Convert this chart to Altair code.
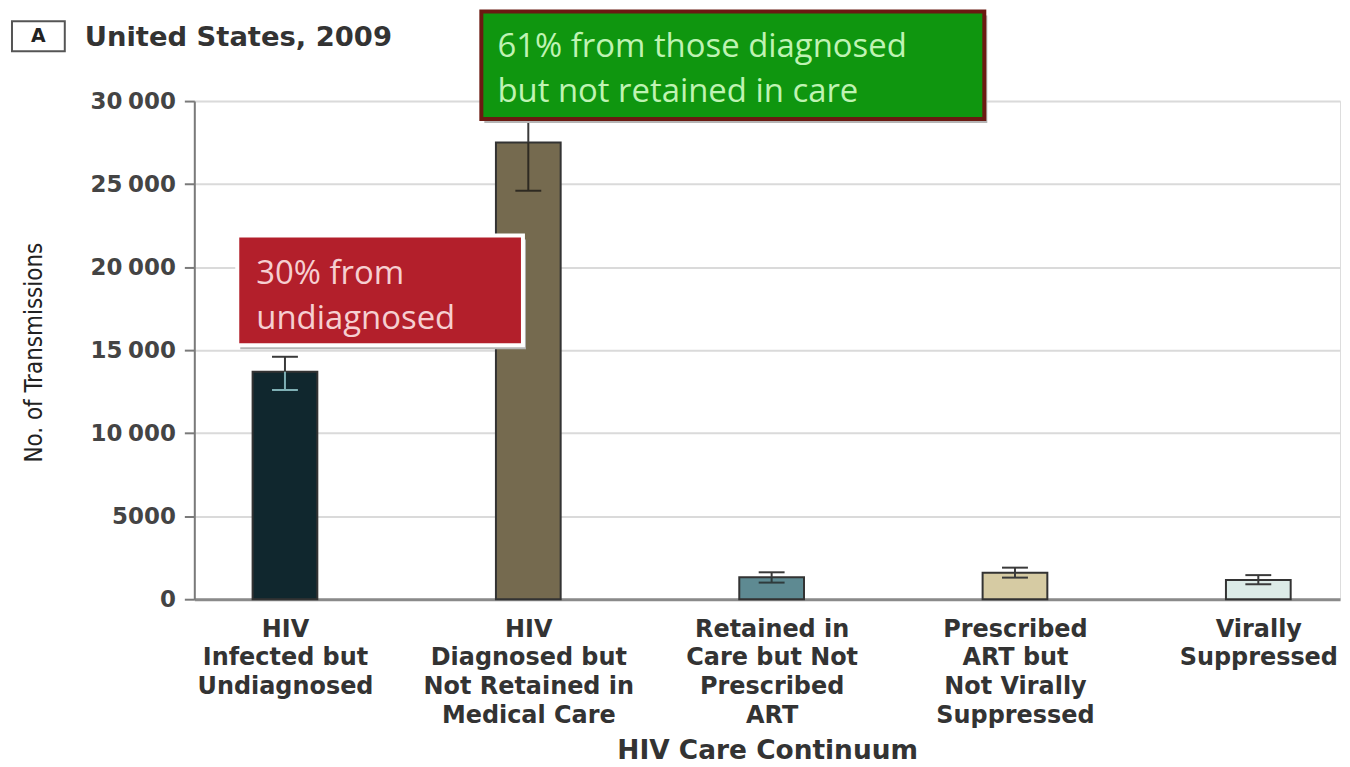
import json
import altair as alt
import pandas as pd

# ---- data ----
category_labels = [
    "HIV|Infected but|Undiagnosed",
    "HIV|Diagnosed but|Not Retained in|Medical Care",
    "Retained in|Care but Not|Prescribed|ART",
    "Prescribed|ART but|Not Virally|Suppressed",
    "Virally|Suppressed",
]
positions = [0, 1, 2, 3, 4]
transmissions = [13700, 27500, 1320, 1600, 1150]
err_low = [12600, 24600, 1000, 1300, 900]
err_high = [14600, 30500, 1620, 1900, 1450]
bar_colors = ["#10272e", "#756a4f", "#5e8a92", "#d6cba3", "#dcebe7"]
inner_err_colors = ["#7fb0b5", "#2e2a22", "#2e3a3c", "#3a3a3a", "#3a3a3a"]
y_ticks = [0, 5000, 10000, 15000, 20000, 25000, 30000]

# annotation boxes (data coordinates)
box_x0 = [-0.196, 0.807]
box_x1 = [0.978, 2.874]
box_y0 = [15300, 28920]
box_y1 = [21900, 35400]
box_fill = ["#b31f2b", "#0f960f"]
box_stroke = ["#ffffff", "#6b1a12"]
box_texts = ["30% from\nundiagnosed", "61% from those diagnosed\nbut not retained in care"]
text_x = [-0.118, 0.873]
text_y = [19000, 32650]
text_colors = ["#f6cfd1", "#bff3b3"]

df = pd.DataFrame({
    "pos": positions,
    "value": transmissions,
    "lo": err_low,
    "hi": err_high,
    "color": bar_colors,
    "inner": inner_err_colors,
})
boxes = pd.DataFrame({
    "x0": box_x0, "x1": box_x1, "y0": box_y0, "y1": box_y1,
    "fill": box_fill, "stroke": box_stroke,
    "text": box_texts, "tx": text_x, "ty": text_y, "tc": text_colors,
})

W, H = 1150, 500
step = 244.25
xmin = -91 / step
xmax = xmin + W / step
half = 0.133

xscale = alt.Scale(domain=[xmin, xmax], nice=False, zero=False)
yscale = alt.Scale(domain=[0, 30000], nice=False)

label_expr = "split(" + json.dumps(category_labels) + "[datum.value], '|')"

LABEL_FONT = "DejaVu Sans"
NARROW = "Liberation Sans Narrow, DejaVu Sans Condensed, Roboto, sans-serif"
XT = "HIV Care Continuum"
YT = "No. of Transmissions"

x_axis = alt.Axis(
    values=positions, labelExpr=label_expr,
    grid=False, ticks=False, domain=True, domainColor="#8a8a8a", domainWidth=3,
    labelFont=LABEL_FONT, labelFontSize=24, labelFontWeight="bold", labelColor="#333333",
    labelLineHeight=29, labelPadding=18, labelFlush=False, labelOverlap=False,
    labelLimit=400,
    titleFont=LABEL_FONT, titleFontSize=26.5, titleFontWeight="bold", titleColor="#333333",
    titleY=152, titleBaseline="middle",
)
y_axis = alt.Axis(
    values=y_ticks, grid=True, gridColor="#dadada", gridWidth=2,
    domainColor="#7a7a7a", domainWidth=2, tickColor="#7a7a7a", tickSize=10, tickWidth=2,
    labelFont=LABEL_FONT, labelFontSize=23, labelFontWeight="bold", labelColor="#444444",
    labelPadding=9,
    labelExpr="datum.value >= 10000 ? replace(format(datum.value, ','), ',', '\u2005') : format(datum.value, 'd')",
    titleFont=NARROW, titleFontSize=24,
    titleFontWeight="normal", titleColor="#222222", titleX=-160, titleY=252,
    titleBaseline="middle",
)


def X(field):
    return alt.X(field, scale=xscale, title=XT)


def Y(field):
    return alt.Y(field, scale=yscale, title=YT)


base = alt.Chart(df)

bars = base.mark_bar(stroke="#333333", strokeWidth=2).transform_calculate(
    x0=f"datum.pos - {half}", x1=f"datum.pos + {half}"
).encode(
    x=alt.X("x0:Q", scale=xscale, axis=x_axis, title=XT),
    x2="x1:Q",
    y=alt.Y("value:Q", scale=yscale, axis=y_axis, title=YT),
    y2=alt.datum(0),
    color=alt.Color("color:N", scale=None),
)

err_up = base.mark_rule(color="#3a3a3a", strokeWidth=2).encode(
    x=X("pos:Q"), y=Y("value:Q"), y2="hi:Q",
)
cap_up = base.mark_tick(orient="horizontal", size=26, thickness=2, color="#3a3a3a", opacity=1).encode(
    x=X("pos:Q"), y=Y("hi:Q"),
)
err_dn = base.mark_rule(strokeWidth=2).encode(
    x=X("pos:Q"), y=Y("lo:Q"), y2="value:Q",
    color=alt.Color("inner:N", scale=None),
)
cap_dn = base.mark_tick(orient="horizontal", size=26, thickness=2, opacity=1).encode(
    x=X("pos:Q"), y=Y("lo:Q"),
    color=alt.Color("inner:N", scale=None),
)

bb = alt.Chart(boxes)
shadow = bb.mark_rect(fill="#b5b5b5", xOffset=3, yOffset=4, x2Offset=3, y2Offset=4, clip=False).encode(
    x=X("x0:Q"), x2="x1:Q", y=Y("y0:Q"), y2="y1:Q",
)
box = bb.mark_rect(strokeWidth=4, clip=False).encode(
    x=X("x0:Q"), x2="x1:Q", y=Y("y0:Q"), y2="y1:Q",
    fill=alt.Fill("fill:N", scale=None),
    stroke=alt.Stroke("stroke:N", scale=None),
)
box_text = bb.mark_text(
    align="left", baseline="alphabetic", font="Open Sans", fontSize=33,
    lineBreak="\n", lineHeight=45, clip=False,
).encode(
    x=X("tx:Q"), y=Y("ty:Q"),
    text="text:N",
    color=alt.Color("tc:N", scale=None),
)

one = alt.Chart(pd.DataFrame({"k": [0]}))
panel_box = one.mark_rect(fill="white", stroke="#555555", strokeWidth=2).encode(
    x=alt.value(-183), x2=alt.value(-130), y=alt.value(-80), y2=alt.value(-50)
)
panel_letter = one.mark_text(font=LABEL_FONT, fontSize=19, fontWeight="bold", color="#222222",
                             align="center", baseline="middle").encode(
    x=alt.value(-156.5), y=alt.value(-65), text=alt.value("A")
)
panel_title = one.mark_text(font=LABEL_FONT, fontSize=27.5, fontWeight="bold", color="#333333",
                            align="left", baseline="alphabetic").encode(
    x=alt.value(-110), y=alt.value(-55), text=alt.value("United States, 2009")
)

chart = alt.layer(
    bars, err_up, cap_up, err_dn, cap_dn, shadow, box, box_text,
    panel_box, panel_letter, panel_title,
).properties(
    width=W, height=H,
    autosize=alt.AutoSizeParams(type="none"),
    padding={"left": 187, "top": 92, "right": 2, "bottom": 164},
).configure_view(stroke=None).configure(background="white")

chart.save("out.html", embed_options={"renderer": "svg", "actions": False})
